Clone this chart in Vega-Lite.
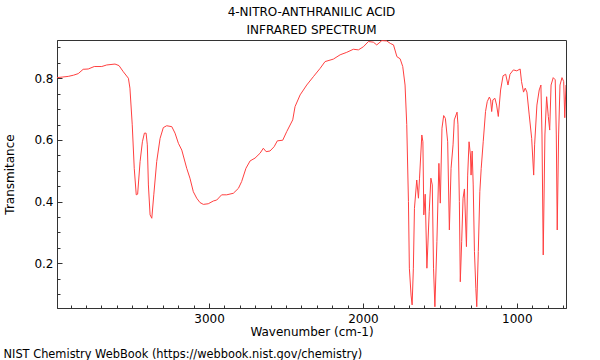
{
  "$schema": "https://vega.github.io/schema/vega-lite/v6.json",
  "width": 509,
  "height": 268,
  "autosize": {"type": "none"},
  "padding": {"left": 57, "top": 40, "right": 34, "bottom": 52},
  "background": "white",
  "config": {
    "view": {"stroke": "#333", "strokeWidth": 1},
    "font": "DejaVu Sans",
    "axis": {"grid": false, "labelFont": "DejaVu Sans", "titleFont": "DejaVu Sans", "labelFontSize": 12, "titleFontSize": 12, "titleFontWeight": "normal", "labelColor": "black", "titleColor": "black", "domainColor": "#333", "tickColor": "#333"}
  },
  "title": {"text": ["4-NITRO-ANTHRANILIC ACID", "INFRARED SPECTRUM"], "font": "DejaVu Sans", "fontSize": 12, "fontWeight": "normal", "color": "black", "lineHeight": 17.5, "offset": 3.5, "anchor": "middle"},
  "data": {"values": [
    {"wn":3988,"T":0.802},{"wn":3950,"T":0.804},{"wn":3915,"T":0.806},{"wn":3880,"T":0.81},{"wn":3850,"T":0.815},{"wn":3818,"T":0.829},{"wn":3785,"T":0.830},{"wn":3746,"T":0.838},{"wn":3697,"T":0.838},{"wn":3665,"T":0.843},{"wn":3611,"T":0.846},{"wn":3585,"T":0.841},{"wn":3557,"T":0.821},{"wn":3524,"T":0.800},{"wn":3514,"T":0.768},{"wn":3499,"T":0.649},{"wn":3486,"T":0.508},{"wn":3473,"T":0.422},{"wn":3464,"T":0.424},{"wn":3448,"T":0.53},{"wn":3433,"T":0.594},{"wn":3420,"T":0.622},{"wn":3409,"T":0.622},{"wn":3401,"T":0.584},{"wn":3394,"T":0.454},{"wn":3383,"T":0.357},{"wn":3372,"T":0.346},{"wn":3359,"T":0.422},{"wn":3340,"T":0.53},{"wn":3318,"T":0.605},{"wn":3297,"T":0.640},{"wn":3275,"T":0.646},{"wn":3242,"T":0.643},{"wn":3221,"T":0.622},{"wn":3199,"T":0.589},{"wn":3177,"T":0.567},{"wn":3145,"T":0.508},{"wn":3124,"T":0.476},{"wn":3102,"T":0.432},{"wn":3080,"T":0.411},{"wn":3059,"T":0.397},{"wn":3037,"T":0.391},{"wn":3005,"T":0.393},{"wn":2972,"T":0.402},{"wn":2950,"T":0.405},{"wn":2918,"T":0.422},{"wn":2885,"T":0.422},{"wn":2842,"T":0.427},{"wn":2809,"T":0.443},{"wn":2788,"T":0.465},{"wn":2760,"T":0.508},{"wn":2733,"T":0.532},{"wn":2701,"T":0.541},{"wn":2668,"T":0.557},{"wn":2647,"T":0.573},{"wn":2629,"T":0.562},{"wn":2604,"T":0.564},{"wn":2577,"T":0.578},{"wn":2556,"T":0.597},{"wn":2521,"T":0.599},{"wn":2495,"T":0.627},{"wn":2456,"T":0.665},{"wn":2441,"T":0.708},{"wn":2408,"T":0.746},{"wn":2365,"T":0.778},{"wn":2322,"T":0.805},{"wn":2278,"T":0.832},{"wn":2246,"T":0.854},{"wn":2192,"T":0.862},{"wn":2148,"T":0.876},{"wn":2105,"T":0.884},{"wn":2062,"T":0.894},{"wn":2029,"T":0.892},{"wn":1997,"T":0.902},{"wn":1964,"T":0.919},{"wn":1932,"T":0.917},{"wn":1910,"T":0.908},{"wn":1877,"T":0.922},{"wn":1845,"T":0.921},{"wn":1822,"T":0.913},{"wn":1801,"T":0.908},{"wn":1779,"T":0.870},{"wn":1758,"T":0.863},{"wn":1741,"T":0.838},{"wn":1726,"T":0.778},{"wn":1715,"T":0.650},{"wn":1704,"T":0.40},{"wn":1698,"T":0.184},{"wn":1687,"T":0.097},{"wn":1680,"T":0.065},{"wn":1672,"T":0.184},{"wn":1665,"T":0.378},{"wn":1650,"T":0.47},{"wn":1639,"T":0.411},{"wn":1632,"T":0.476},{"wn":1617,"T":0.616},{"wn":1610,"T":0.594},{"wn":1604,"T":0.357},{"wn":1595,"T":0.424},{"wn":1584,"T":0.184},{"wn":1569,"T":0.367},{"wn":1558,"T":0.476},{"wn":1549,"T":0.454},{"wn":1541,"T":0.184},{"wn":1532,"T":0.059},{"wn":1519,"T":0.27},{"wn":1506,"T":0.524},{"wn":1497,"T":0.395},{"wn":1486,"T":0.638},{"wn":1475,"T":0.679},{"wn":1464,"T":0.67},{"wn":1449,"T":0.594},{"wn":1438,"T":0.308},{"wn":1427,"T":0.508},{"wn":1414,"T":0.584},{"wn":1406,"T":0.665},{"wn":1388,"T":0.69},{"wn":1382,"T":0.649},{"wn":1373,"T":0.40},{"wn":1367,"T":0.14},{"wn":1358,"T":0.27},{"wn":1349,"T":0.411},{"wn":1340,"T":0.441},{"wn":1327,"T":0.254},{"wn":1319,"T":0.486},{"wn":1310,"T":0.594},{"wn":1301,"T":0.551},{"wn":1297,"T":0.486},{"wn":1290,"T":0.564},{"wn":1283,"T":0.454},{"wn":1275,"T":0.238},{"wn":1266,"T":0.119},{"wn":1260,"T":0.059},{"wn":1250,"T":0.238},{"wn":1240,"T":0.432},{"wn":1231,"T":0.508},{"wn":1218,"T":0.594},{"wn":1203,"T":0.692},{"wn":1192,"T":0.724},{"wn":1178,"T":0.739},{"wn":1170,"T":0.73},{"wn":1163,"T":0.692},{"wn":1155,"T":0.73},{"wn":1142,"T":0.735},{"wn":1131,"T":0.713},{"wn":1120,"T":0.676},{"wn":1105,"T":0.762},{"wn":1089,"T":0.808},{"wn":1072,"T":0.813},{"wn":1057,"T":0.778},{"wn":1044,"T":0.813},{"wn":1022,"T":0.827},{"wn":1000,"T":0.824},{"wn":978,"T":0.83},{"wn":969,"T":0.789},{"wn":956,"T":0.755},{"wn":945,"T":0.768},{"wn":934,"T":0.755},{"wn":919,"T":0.681},{"wn":903,"T":0.605},{"wn":890,"T":0.486},{"wn":884,"T":0.584},{"wn":869,"T":0.713},{"wn":854,"T":0.762},{"wn":843,"T":0.778},{"wn":836,"T":0.616},{"wn":828,"T":0.227},{"wn":817,"T":0.616},{"wn":806,"T":0.74},{"wn":795,"T":0.676},{"wn":786,"T":0.632},{"wn":777,"T":0.778},{"wn":763,"T":0.802},{"wn":750,"T":0.795},{"wn":743,"T":0.616},{"wn":737,"T":0.308},{"wn":728,"T":0.616},{"wn":719,"T":0.778},{"wn":706,"T":0.802},{"wn":695,"T":0.789},{"wn":688,"T":0.672},{"wn":680,"T":0.778}
  ]},
  "layer": [
    {
      "mark": {"type": "line", "color": "#ff4040", "strokeWidth": 1, "clip": true},
      "encoding": {
        "x": {"field": "wn", "type": "quantitative", "sort": null,
          "scale": {"domain": [680, 3988], "reverse": true, "nice": false, "zero": false},
          "axis": {"orient": "bottom", "values": [1000, 2000, 3000], "format": "d", "tickSize": -5, "labelPadding": 10, "title": "Wavenumber (cm-1)", "titlePadding": 2}},
        "y": {"field": "T", "type": "quantitative",
          "scale": {"domain": [0.055, 0.924], "nice": false, "zero": false},
          "axis": {"orient": "left", "values": [0.2, 0.4, 0.6, 0.8], "format": ".1f", "tickSize": -5, "labelPadding": 9, "title": "Transmitance", "titlePadding": 17}}
      }
    },
    {
      "mark": {"type": "line", "strokeOpacity": 0},
      "encoding": {
        "x": {"field": "wn", "type": "quantitative",
          "axis": {"orient": "bottom", "values": [700,800,900,1000,1100,1200,1300,1400,1500,1600,1700,1800,1900,2000,2100,2200,2300,2400,2500,2600,2700,2800,2900,3000,3100,3200,3300,3400,3500,3600,3700,3800,3900], "tickSize": -3, "labels": false, "domain": false, "title": "NIST Chemistry WebBook (https://webbook.nist.gov/chemistry)", "titleFontSize": 11.4, "titleX": -54, "titleY": 49, "titleAlign": "left", "titleBaseline": "alphabetic", "titleAnchor": "start"}},
        "y": {"field": "T", "type": "quantitative",
          "axis": {"orient": "left", "values": [0.1,0.15,0.2,0.25,0.3,0.35,0.4,0.45,0.5,0.55,0.6,0.65,0.7,0.75,0.8,0.85,0.9], "tickSize": -3, "labels": false, "domain": false, "title": null}}
      }
    }
  ],
  "resolve": {"axis": {"x": "independent", "y": "independent"}}
}
